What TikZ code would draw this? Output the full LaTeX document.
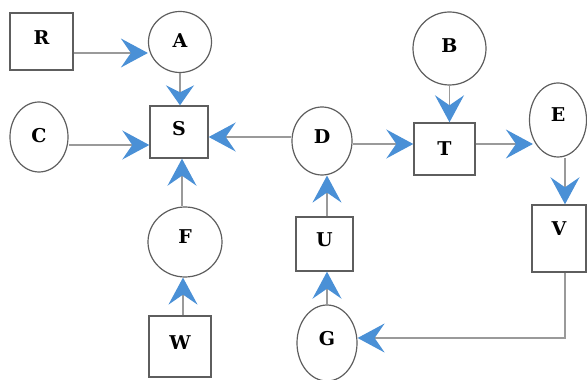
\documentclass[tikz,border=0pt]{standalone}
\usepackage{fontspec}
\setmainfont{DejaVu Serif}
\usetikzlibrary{arrows.meta,shapes.geometric}
\definecolor{tipblue}{HTML}{4A90D6}
\definecolor{linegray}{HTML}{9A9A9A}
\definecolor{bordergray}{HTML}{5E5E5E}
\tikzset{
  labelfont/.style={font=\fontsize{19}{19}\selectfont\bfseries, text depth=8pt},
  boxnode/.style={draw=bordergray, line width=1.4pt, rectangle, inner sep=0pt, labelfont},
  roundnode/.style={draw=bordergray, line width=1.2pt, ellipse, inner sep=0pt, labelfont},
  conn/.style={draw=linegray, line width=1.3pt, -{Stealth[length=27pt, width=29pt, inset=10pt, color=tipblue]}},
  shortconn/.style={conn, -{Stealth[length=20pt, width=28pt, inset=7pt, color=tipblue]}}
}
\begin{document}
\begin{tikzpicture}[x=1pt,y=1pt]
\useasboundingbox (0,0) rectangle (587,380);
% nodes
\node[boxnode, minimum width=63pt, minimum height=57pt] (R) at (41.5,338.5) {R};
\node[roundnode, minimum width=63pt, minimum height=61pt, text depth=2pt] (A) at (180,338) {A};
\node[boxnode, minimum width=58pt, minimum height=52pt] (S) at (179,248) {S};
\node[roundnode, minimum width=58pt, minimum height=70pt, text depth=4pt] (C) at (39,243) {C};
\node[roundnode, minimum width=60pt, minimum height=68pt] (D) at (322,239) {D};
\node[boxnode, minimum width=61pt, minimum height=52pt, text depth=0pt] (T) at (444.5,231) {T};
\node[roundnode, minimum width=73pt, minimum height=73pt, text depth=6pt] (B) at (449.5,331.5) {B};
\node[roundnode, minimum width=57pt, minimum height=74pt, text depth=10pt] (E) at (558,260) {E};
\node[boxnode, minimum width=54pt, minimum height=67pt, text depth=20pt] (V) at (559,141.5) {V};
\node[roundnode, minimum width=60pt, minimum height=76pt, text depth=10pt] (G) at (327,37) {G};
\node[boxnode, minimum width=57pt, minimum height=54pt] (U) at (324.5,136) {U};
\node[roundnode, minimum width=74pt, minimum height=70pt, text depth=10pt] (F) at (185,138) {F};
\node[boxnode, minimum width=62pt, minimum height=61pt] (W) at (180,33.5) {W};
% connectors
\draw[conn] ([yshift=-11.5pt]R.east) -- ([yshift=-11pt]A.west);
\draw[shortconn] (A.south) -- ([xshift=1pt]S.north);
\draw[conn] ([yshift=-8pt]C.east) -- ([yshift=-13pt]S.west);
\draw[conn] ([yshift=4pt]D.west) -- ([yshift=-5pt]S.east);
\draw[conn] ([yshift=-3pt]D.east) -- ([yshift=5pt]T.west);
\draw[conn] (B.south) -- ([xshift=5pt]T.north);
\draw[conn] ([yshift=5pt]T.east) -- ([xshift=4pt,yshift=-24pt]E.west);
\draw[conn] ([xshift=7pt]E.south) -- ([xshift=6pt]V.north);
\draw[conn] ([xshift=6pt]V.south) |- ([yshift=5pt]G.east);
\draw[conn] (G.north) -- ([xshift=2.5pt]U.south);
\draw[conn] ([xshift=2.5pt]U.north) -- ([xshift=5pt]D.south);
\draw[conn] ([xshift=-3pt]F.north) -- ([xshift=3pt]S.south);
\draw[conn] ([xshift=3pt]W.north) -- ([xshift=-2pt]F.south);
\end{tikzpicture}
\end{document}
